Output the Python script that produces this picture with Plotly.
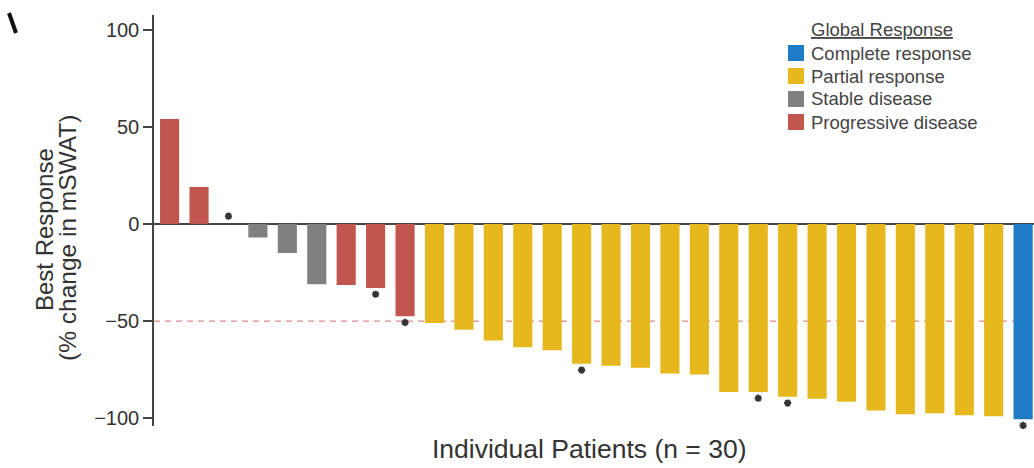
import plotly.graph_objects as go

# ---------------- data ----------------
patients = list(range(1, 31))
best_response = [54, 19, 0, -7, -15, -31, -31.5, -33, -47.5, -51,
                 -54.5, -60, -63.5, -65, -72, -73, -74, -77, -77.5, -86.5,
                 -86.5, -89, -90, -91.5, -96, -98, -97.5, -98.5, -99, -100.5]
response = (["Progressive disease"] * 2 + ["Stable disease"] * 4 +
            ["Progressive disease"] * 3 + ["Partial response"] * 20 +
            ["Complete response"])
asterisk = [0, 0, 1, 0, 0, 0, 0, 1, 1, 0,
            0, 0, 0, 0, 1, 0, 0, 0, 0, 0,
            1, 1, 0, 0, 0, 0, 0, 0, 0, 1]
legend_order = ["Complete response", "Partial response", "Stable disease", "Progressive disease"]
colors = {"Complete response": "#1E7BC6", "Partial response": "#E6B81E",
          "Stable disease": "#808083", "Progressive disease": "#C0564E"}
y_ticks = [-100, -50, 0, 50, 100]
threshold = -50

# ---------------- layout helpers (page pixel -> paper) ----------------
L, R, T, B = 154, 1034, 15, 426   # plot area in page pixels
W, H = 1034, 468
def px(x):
    return (x - L) / (R - L)
def py(y):
    return (B - y) / (B - T)

fig = go.Figure()

for cat in legend_order:
    xs = [p for p, r in zip(patients, response) if r == cat]
    ys = [v for v, r in zip(best_response, response) if r == cat]
    fig.add_trace(go.Bar(x=xs, y=ys, name=cat, marker=dict(color=colors[cat], line=dict(width=0)),
                         width=0.65, showlegend=False))

ax = [p for p, a in zip(patients, asterisk) if a]
ay = [(v - 3.2) if v < 0 else (v + 4) for v, a in zip(best_response, asterisk) if a]
fig.add_trace(go.Scatter(x=ax, y=ay, mode="markers", showlegend=False, cliponaxis=False,
                         marker=dict(symbol="asterisk-open", size=6, color="#333",
                                     line=dict(width=2, color="#333"))))

# threshold dashed line
fig.add_shape(type="line", xref="paper", x0=0, x1=1, yref="y", y0=threshold, y1=threshold,
              line=dict(color="#D98C8C", width=1.3, dash="6px,5px"), layer="below")

# manual legend
font_fam = "Liberation Sans, Arial, sans-serif"
fig.add_annotation(xref="paper", yref="paper", x=px(809), y=py(30), xanchor="left", yanchor="middle",
                   text="<u>Global Response</u>", showarrow=False,
                   font=dict(family=font_fam, size=18.5, color="#444"))
for i, cat in enumerate(legend_order):
    cy = 53 + 23 * i
    fig.add_shape(type="rect", xref="paper", yref="paper", x0=px(788), x1=px(804),
                  y0=py(cy - 8), y1=py(cy + 8), fillcolor=colors[cat], line=dict(width=0))
    fig.add_annotation(xref="paper", yref="paper", x=px(809), y=py(cy), xanchor="left", yanchor="middle",
                       text=cat, showarrow=False, font=dict(family=font_fam, size=18.5, color="#444"))

# axis titles
fig.add_annotation(xref="paper", yref="paper", x=px(589), y=py(449), xanchor="center", yanchor="middle",
                   text="Individual Patients (n = 30)", showarrow=False,
                   font=dict(family=font_fam, size=26.5, color="#333"))
fig.add_annotation(xref="paper", yref="paper", x=px(44), y=py(230), xanchor="center", yanchor="middle",
                   text="Best Response", textangle=-90, showarrow=False,
                   font=dict(family=font_fam, size=24, color="#333"))
fig.add_annotation(xref="paper", yref="paper", x=px(67), y=py(238), xanchor="center", yanchor="middle",
                   text="(% change in mSWAT)", textangle=-90, showarrow=False,
                   font=dict(family=font_fam, size=24.5, color="#333"))

# panel-label fragment at top-left
fig.add_shape(type="line", xref="paper", yref="paper", x0=px(9), y0=py(13), x1=px(16), y1=py(33),
              line=dict(color="#111", width=4))

fig.update_layout(
    width=W, height=H,
    margin=dict(l=L, r=W - R, t=T, b=H - B),
    paper_bgcolor="white", plot_bgcolor="white",
    xaxis=dict(range=[0.47, 30.37], showline=False, showticklabels=False, ticks="",
               showgrid=False, zeroline=False),
    yaxis=dict(range=[-104, 107.5], tickvals=y_ticks, showline=True, linecolor="#444", linewidth=1.5,
               ticks="outside", ticklen=9, tickcolor="#444", tickwidth=1.5, showgrid=False,
               zeroline=True, zerolinecolor="#444", zerolinewidth=1.5,
               tickfont=dict(family=font_fam, size=20, color="#333")),
    font=dict(family=font_fam),
)

fig.write_html("out.html", config={"displayModeBar": False},
               post_script="document.body.style.margin='0';document.body.style.overflow='hidden';")
